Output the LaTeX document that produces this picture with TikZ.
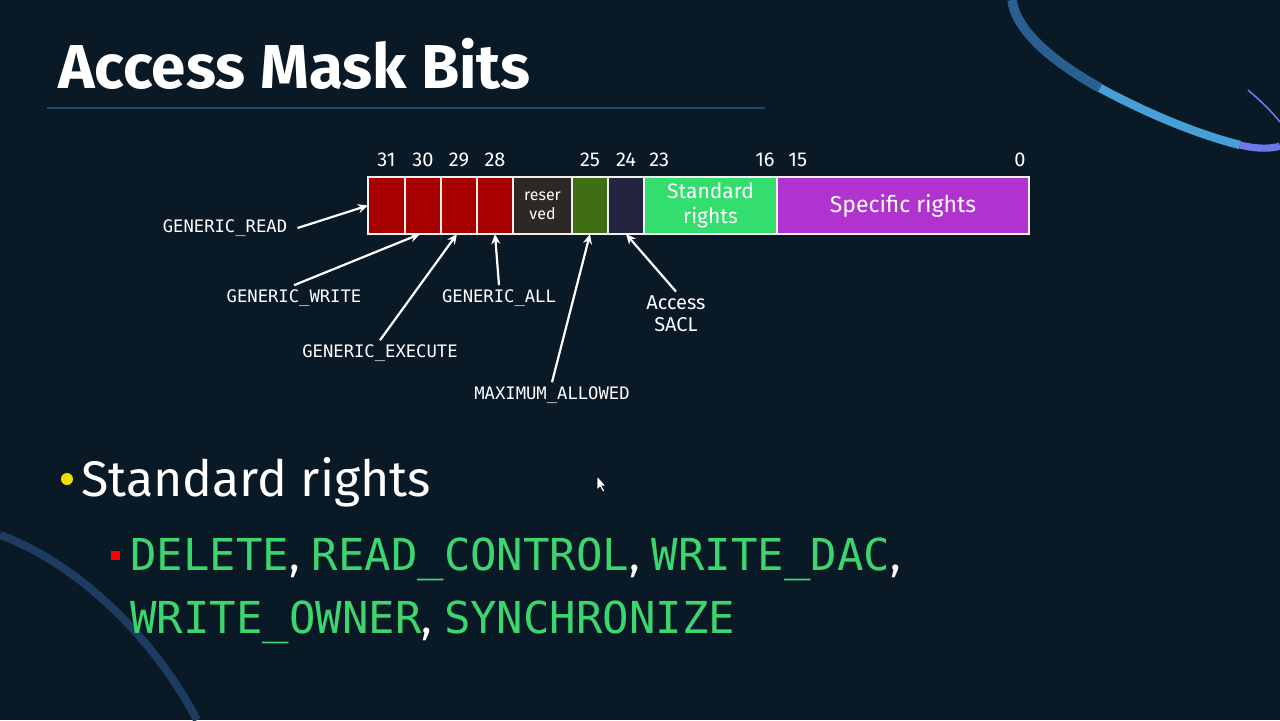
\documentclass[tikz,border=0pt]{standalone}
\usepackage{fontspec}
\setmainfont{Fira Sans}
\setmonofont{DejaVu Sans Mono}
\usetikzlibrary{arrows.meta,positioning}
\definecolor{night}{RGB}{10,25,38}
\definecolor{rulecol}{RGB}{30,72,105}
\definecolor{genred}{RGB}{168,0,0}
\definecolor{resv}{RGB}{43,40,38}
\definecolor{maxgreen}{RGB}{63,110,20}
\definecolor{sacl}{RGB}{35,37,63}
\definecolor{stdgreen}{RGB}{51,221,110}
\definecolor{specpurple}{RGB}{176,51,208}
\definecolor{codegreen}{RGB}{61,214,110}
\definecolor{dotyellow}{RGB}{240,224,0}
\definecolor{orbitA}{RGB}{42,95,145}
\definecolor{orbitB}{RGB}{70,160,215}
\definecolor{orbitC}{RGB}{110,120,230}
\definecolor{orbitD}{RGB}{30,60,95}
\newcommand\cw[1]{\textcolor{codegreen}{\ttfamily#1}}
\tikzset{
  >={Stealth[length=5pt,width=4.5pt]},
  cell/.style={draw=white!88!gray,line width=0.6pt,fill=#1,minimum width=18pt,
    minimum height=28.5pt,inner sep=0pt,outer sep=0pt,text=white,align=center},
  cell/.default=genred,
  bitno/.style={text=white,font=\fontsize{10}{12}\selectfont,inner sep=1pt},
  flag/.style={text=white,font=\ttfamily\fontsize{8.6}{10}\selectfont,inner sep=2pt,align=center},
  pointer/.style={->,white,line width=1.1pt},
  title/.style={anchor=base west,inner sep=0pt,text=white,font=\bfseries\fontsize{31}{36}\selectfont},
  rights/.style={anchor=base west,inner sep=0pt,text=white,font=\fontsize{22}{26}\selectfont},
}
\begin{document}
\begin{tikzpicture}[x=0.5pt,y=-0.5pt]
  \useasboundingbox (0,0) rectangle (1280,720);
  \fill[night] (0,0) rectangle (1280,720);
  % orbits
  \draw[orbitA,line width=4.8pt] (1012,0) .. controls (1016,30) and (1050,60) .. (1100,88);
  \draw[orbitB,line width=4.2pt] (1100,88) .. controls (1150,115) and (1200,135) .. (1240,145);
  \draw[orbitC,line width=3.6pt] (1240,145) .. controls (1260,150) and (1275,148) .. (1280,146);
  \draw[orbitC,line width=0.8pt] (1248,90) .. controls (1262,102) and (1272,112) .. (1280,122);
  \draw[orbitD,line width=4pt] (0,535) .. controls (70,560) and (150,630) .. (197,720);
  % title
  \node[title] (head) at (58,88) {Access Mask Bits};
  \draw[rulecol,line width=1pt] (47,108) -- (765,108);
  % the mask
  \node[cell,minimum width=18.5pt,anchor=west] (c31) at (368,205.5) {};
  \node[cell,right=0pt of c31] (c30) {};
  \node[cell,right=0pt of c30] (c29) {};
  \node[cell,right=0pt of c29] (c28) {};
  \node[cell=resv,minimum width=29.5pt,right=0pt of c28,font=\fontsize{8}{9.5}\selectfont] (cres) {reser\\ved};
  \node[cell=maxgreen,right=0pt of cres] (c25) {};
  \node[cell=sacl,right=0pt of c25] (c24) {};
  \node[cell=stdgreen,minimum width=66.5pt,right=0pt of c24,font=\fontsize{10.5}{12.5}\selectfont] (cstd) {Standard\\rights};
  \node[cell=specpurple,minimum width=126pt,right=0pt of cstd,font=\fontsize{11.5}{13}\selectfont] (cspec) {Specific rights};
  \coordinate (numrow) at (0,160);
  \foreach \b in {31,30,29,28,25,24}
    \node[bitno] (n\b) at (c\b |- numrow) {\b};
  \node[bitno,anchor=west,xshift=1.5pt] (n23) at (cstd.west |- numrow) {23};
  \node[bitno,anchor=east] (n16) at (cstd.east |- numrow) {16};
  \node[bitno,anchor=west,xshift=4.5pt] (n15) at (cspec.west |- numrow) {15};
  \node[bitno,anchor=east,xshift=-0.5pt] (n0) at (cspec.east |- numrow) {0};
  % flags
  \node[flag] (lread) at (225,228) {GENERIC\_READ};
  \node[flag] (lwrite) at (294,298) {GENERIC\_WRITE};
  \node[flag] (lexec) at (380,353) {GENERIC\_EXECUTE};
  \node[flag] (lall) at (499,298) {GENERIC\_ALL};
  \node[flag] (lmax) at (552,395) {MAXIMUM\_ALLOWED};
  \node[flag,font=\fontsize{10}{11}\selectfont] (lsacl) at (676,314) {Access\\SACL};
  \draw[pointer] ([xshift=3pt]lread.east) -- (c31.west);
  \draw[pointer] (lwrite.north) -- ([xshift=-1.5pt]c30.south);
  \draw[pointer] (lexec.north) -- ([xshift=-1pt]c29.south);
  \draw[pointer] (lall.north) -- (c28.south);
  \draw[pointer] (lmax.north) -- (c25.south);
  \draw[pointer] (lsacl.north) -- (c24.south);
  % bullets
  \node[circle,fill=dotyellow,minimum size=6pt,inner sep=0pt] (dot) at (67,479) {};
  \node[anchor=base west,inner sep=0pt,text=white,font=\fontsize{25}{29}\selectfont] (std) at (81,496) {Standard rights};
  \node[fill=red,minimum size=4.5pt,inner sep=0pt] (sq) at (115,555) {};
  \node[rights] (line1) at (130,570) {\cw{DELETE}, \cw{READ\_CONTROL}, \cw{WRITE\_DAC},};
  \node[rights] (line2) at (130,633) {\cw{WRITE\_OWNER}, \cw{SYNCHRONIZE}};
  % cursor
  \fill[white,draw=black,line width=0.3pt] (597,476) -- (597,490) -- (600,487) -- (603,492)
    -- (605,491) -- (602,486) -- (606,486) -- cycle;
\end{tikzpicture}
\end{document}
